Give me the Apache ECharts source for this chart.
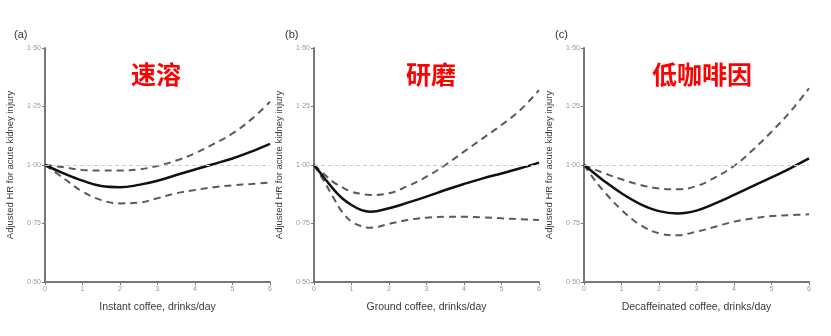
<!DOCTYPE html>
<html>
<head>
<meta charset="utf-8">
<script src="https://cdn.jsdelivr.net/npm/echarts@6/dist/echarts.min.js"></script>
<style>html,body{margin:0;padding:0;background:#fff}#c{width:831px;height:336px}</style>
</head>
<body>
<div id="c"></div>
<script>
// Data
const panelLabels = ['(a)', '(b)', '(c)'];
const panelTitles = ['速溶', '研磨', '低咖啡因'];
const xTitles = ['Instant coffee, drinks/day', 'Ground coffee, drinks/day', 'Decaffeinated coffee, drinks/day'];
const yTitle = 'Adjusted HR for acute kidney injury';
const yTicks = [0.5, 0.75, 1.0, 1.25, 1.5];

const xA = [0, 0.5, 1, 1.5, 2, 2.5, 3, 3.5, 4, 4.5, 5, 5.5, 6];
const estA = [1.0, 0.964, 0.933, 0.91, 0.905, 0.915, 0.933, 0.957, 0.981, 1.004, 1.028, 1.057, 1.09];
const upA  = [1.0, 0.99, 0.979, 0.976, 0.976, 0.981, 0.996, 1.019, 1.05, 1.09, 1.135, 1.195, 1.27];
const loA  = [1.0, 0.943, 0.886, 0.85, 0.836, 0.839, 0.858, 0.879, 0.893, 0.905, 0.913, 0.919, 0.925];

const xB = [0, 0.25, 0.5, 0.75, 1, 1.25, 1.5, 2, 2.5, 3, 3.5, 4, 4.5, 5, 5.5, 6];
const estB = [1.0, 0.95, 0.90, 0.858, 0.829, 0.808, 0.80, 0.815, 0.839, 0.865, 0.893, 0.919, 0.943, 0.964, 0.986, 1.01];
const upB  = [1.0, 0.964, 0.929, 0.905, 0.886, 0.877, 0.872, 0.879, 0.91, 0.95, 1.0, 1.057, 1.114, 1.171, 1.235, 1.32];
const loB  = [1.0, 0.936, 0.865, 0.80, 0.758, 0.739, 0.732, 0.748, 0.765, 0.775, 0.779, 0.779, 0.776, 0.772, 0.768, 0.765];

const xC = [0, 0.25, 0.5, 1, 1.5, 2, 2.5, 3, 3.5, 4, 4.5, 5, 5.5, 6];
const estC = [1.0, 0.968, 0.936, 0.879, 0.833, 0.803, 0.793, 0.805, 0.836, 0.872, 0.91, 0.947, 0.986, 1.028];
const upC  = [1.0, 0.983, 0.967, 0.939, 0.915, 0.90, 0.896, 0.91, 0.947, 0.996, 1.064, 1.142, 1.228, 1.328];
const loC  = [1.0, 0.943, 0.893, 0.808, 0.744, 0.708, 0.70, 0.715, 0.736, 0.758, 0.772, 0.782, 0.786, 0.789];

const panels = [
  {x: xA, est: estA, up: upA, lo: loA},
  {x: xB, est: estB, up: upB, lo: loB},
  {x: xC, est: estC, up: upC, lo: loC}
];

const gridLefts = [45, 314, 584];
const gridWidth = 225;
const titleCenters = [151, 426, 697];
const labelLefts = [9, 280, 550];
const font = 'Liberation Sans, Arial, sans-serif';

const pairs = (xs, ys) => xs.map((v, i) => [v, ys[i]]);

const grid = [], xAxis = [], yAxis = [], series = [], title = [];
panels.forEach((p, i) => {
  grid.push({left: gridLefts[i], width: gridWidth, top: 48, bottom: 54});
  xAxis.push({
    type: 'value', gridIndex: i, min: 0, max: 6, interval: 1,
    name: xTitles[i], nameLocation: 'middle', nameGap: 20,
    nameTextStyle: {fontFamily: font, fontSize: 10.5, color: '#3a3a3a'},
    axisLine: {lineStyle: {color: '#777', width: 2}},
    axisTick: {length: 3, lineStyle: {color: '#777'}},
    axisLabel: {fontFamily: font, fontSize: 7, color: '#999', margin: 4},
    splitLine: {show: false}
  });
  yAxis.push({
    type: 'value', gridIndex: i, min: 0.5, max: 1.5, interval: 0.25,
    name: yTitle, nameLocation: 'middle', nameGap: 30,
    nameTextStyle: {fontFamily: font, fontSize: 9.5, color: '#3a3a3a'},
    axisLine: {show: true, lineStyle: {color: '#777', width: 2}},
    axisTick: {show: true, length: 3, lineStyle: {color: '#777'}},
    axisLabel: {fontFamily: font, fontSize: 7, color: '#999', margin: 4,
      formatter: v => v.toFixed(2).replace('.', '·')},
    splitLine: {show: false}
  });
  series.push({
    type: 'line', xAxisIndex: i, yAxisIndex: i, data: pairs(p.x, p.up),
    smooth: 0.4, symbol: 'none', lineStyle: {color: '#5a5a5a', width: 2, type: [7, 5]}, z: 3,
    markLine: {silent: true, symbol: 'none', label: {show: false},
      lineStyle: {color: '#ccc', width: 1, type: [4, 3]}, data: [{yAxis: 1}]}
  });
  series.push({
    type: 'line', xAxisIndex: i, yAxisIndex: i, data: pairs(p.x, p.lo),
    smooth: 0.4, symbol: 'none', lineStyle: {color: '#5a5a5a', width: 2, type: [7, 5]}, z: 3
  });
  series.push({
    type: 'line', xAxisIndex: i, yAxisIndex: i, data: pairs(p.x, p.est),
    smooth: 0.4, symbol: 'none', lineStyle: {color: '#111', width: 2.5}, z: 4
  });
  title.push({
    text: panelTitles[i], left: titleCenters[i], top: 57, textAlign: 'center',
    textStyle: {fontFamily: 'Noto Sans CJK SC', fontWeight: 'bold', fontSize: 25, color: '#ff0000'}
  });
  title.push({
    text: panelLabels[i], left: labelLefts[i], top: 24,
    textStyle: {fontFamily: font, fontWeight: 'normal', fontSize: 11, color: '#333'}
  });
});

const chart = echarts.init(document.getElementById('c'), null, {renderer: 'canvas'});
chart.setOption({
  animation: false,
  backgroundColor: '#fff',
  title, grid, xAxis, yAxis, series
});
</script>
</body>
</html>
